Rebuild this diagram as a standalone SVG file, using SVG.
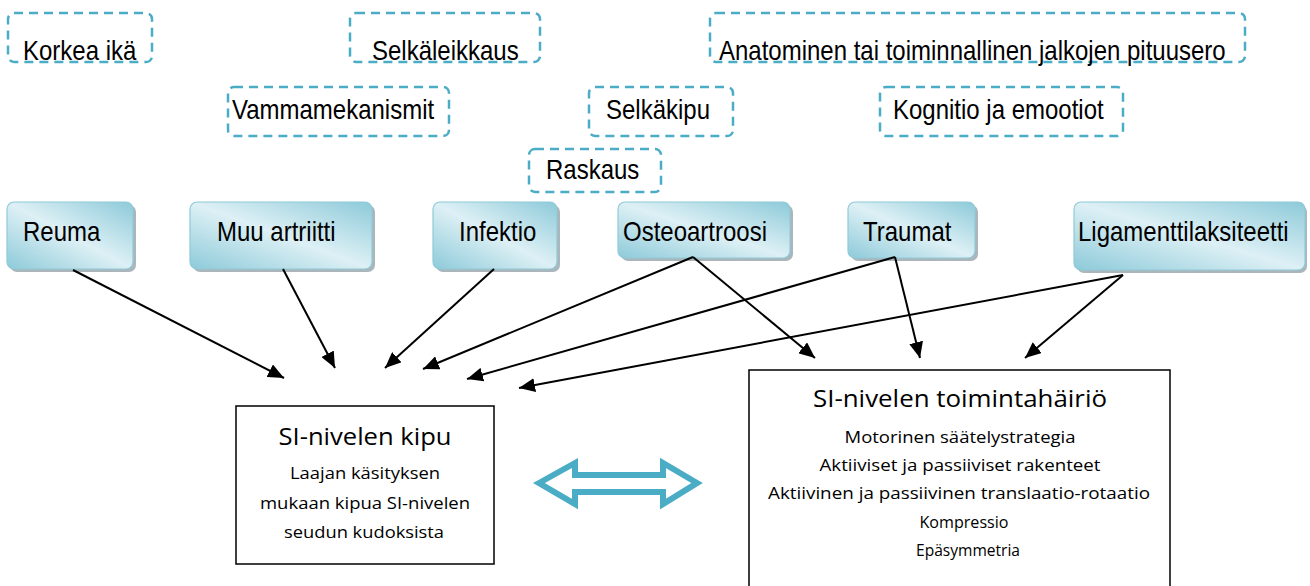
<svg xmlns="http://www.w3.org/2000/svg" width="1310" height="586" viewBox="0 0 1310 586">
<style>
.lbl{font-family:"Liberation Sans",Arial,sans-serif;font-size:28px;fill:#000}
.dash{fill:none;stroke:#4BACC6;stroke-width:2.5;stroke-dasharray:9 6}
.blue{fill:url(#g);stroke:#8FCAD8;stroke-width:1.2}
.shadow{fill:#8E9EA4;opacity:0.75}
.cal{font-family:"Open Sans","Noto Sans",sans-serif;fill:#000;text-anchor:middle}
.t{font-size:24.5px}
.s{font-size:16px}
.box{fill:#fff;stroke:#000;stroke-width:1.5}
.conn line{stroke:#000;stroke-width:2;marker-end:url(#ah)}
</style>
<defs>
<linearGradient id="g" x1="0" y1="1" x2="1" y2="0">
<stop offset="0" stop-color="#8DCAD9"/>
<stop offset="0.5" stop-color="#DDF0F5"/>
<stop offset="1" stop-color="#8DCAD9"/>
</linearGradient>
<marker id="ah" markerUnits="userSpaceOnUse" markerWidth="18" markerHeight="14" refX="16" refY="7" orient="auto">
<path d="M0,0 L16,7 L0,14 z" fill="#000"/>
</marker>
</defs>
<rect width="1310" height="586" fill="#fff"/>

<g id="korkea-ika"><rect class="dash" x="8" y="13" width="144" height="49" rx="6"/><text class="lbl" transform="translate(23,60) scale(0.857,1)">Korkea ikä</text></g>
<g id="selkaleikkaus"><rect class="dash" x="350" y="13" width="190" height="49" rx="6"/><text class="lbl" transform="translate(372,60) scale(0.857,1)">Selkäleikkaus</text></g>
<g id="anatominen"><rect class="dash" x="710" y="13" width="535" height="49" rx="6"/><text class="lbl" transform="translate(719,60) scale(0.857,1)">Anatominen tai toiminnallinen jalkojen pituusero</text></g>
<g id="vammamekanismit"><rect class="dash" x="228" y="87" width="221" height="49" rx="6"/><text class="lbl" transform="translate(232,119) scale(0.857,1)">Vammamekanismit</text></g>
<g id="selkakipu"><rect class="dash" x="589" y="87" width="144" height="49" rx="6"/><text class="lbl" transform="translate(606,119) scale(0.857,1)">Selkäkipu</text></g>
<g id="kognitio"><rect class="dash" x="880" y="87" width="243" height="49" rx="6"/><text class="lbl" transform="translate(893,119) scale(0.857,1)">Kognitio ja emootiot</text></g>
<g id="raskaus"><rect class="dash" x="529" y="149" width="132" height="43" rx="6"/><text class="lbl" transform="translate(546,179) scale(0.857,1)">Raskaus</text></g>

<g id="reuma"><rect class="shadow" x="10" y="205" width="126" height="67" rx="7"/><rect class="blue" x="7" y="202" width="126" height="67" rx="7"/><text class="lbl" transform="translate(23,241) scale(0.857,1)">Reuma</text></g>
<g id="muu-artriitti"><rect class="shadow" x="193" y="205" width="182" height="67" rx="7"/><rect class="blue" x="190" y="202" width="182" height="67" rx="7"/><text class="lbl" transform="translate(217,241) scale(0.857,1)">Muu artriitti</text></g>
<g id="infektio"><rect class="shadow" x="436" y="205" width="124" height="67" rx="7"/><rect class="blue" x="433" y="202" width="124" height="67" rx="7"/><text class="lbl" transform="translate(459,241) scale(0.857,1)">Infektio</text></g>
<g id="osteoartroosi"><rect class="shadow" x="621" y="205" width="172" height="56" rx="7"/><rect class="blue" x="618" y="202" width="172" height="56" rx="7"/><text class="lbl" transform="translate(623,241) scale(0.857,1)">Osteoartroosi</text></g>
<g id="traumat"><rect class="shadow" x="851" y="205" width="127" height="56" rx="7"/><rect class="blue" x="848" y="202" width="127" height="56" rx="7"/><text class="lbl" transform="translate(863,241) scale(0.857,1)">Traumat</text></g>
<g id="ligamenttilaksiteetti"><rect class="shadow" x="1077" y="205" width="230" height="68" rx="7"/><rect class="blue" x="1074" y="202" width="231" height="68" rx="7"/><text class="lbl" transform="translate(1078,241) scale(0.857,1)">Ligamenttilaksiteetti</text></g>

<g id="si-kipu"><rect class="box" x="236" y="406" width="258" height="158"/>
<text class="cal t" x="365" y="445" textLength="173" lengthAdjust="spacingAndGlyphs">SI-nivelen kipu</text>
<text class="cal s" x="365" y="479" textLength="150" lengthAdjust="spacingAndGlyphs">Laajan käsityksen</text>
<text class="cal s" x="365" y="509" textLength="210" lengthAdjust="spacingAndGlyphs">mukaan kipua SI-nivelen</text>
<text class="cal s" x="364" y="538" textLength="160" lengthAdjust="spacingAndGlyphs">seudun kudoksista</text></g>

<g id="si-toimintahairio"><rect class="box" x="749" y="370" width="421" height="230"/>
<text class="cal t" x="960" y="407" textLength="294" lengthAdjust="spacingAndGlyphs">SI-nivelen toimintahäiriö</text>
<text class="cal s" x="960" y="443" textLength="231" lengthAdjust="spacingAndGlyphs">Motorinen säätelystrategia</text>
<text class="cal s" x="960" y="471" textLength="281" lengthAdjust="spacingAndGlyphs">Aktiiviset ja passiiviset rakenteet</text>
<text class="cal s" x="959" y="499" textLength="382" lengthAdjust="spacingAndGlyphs">Aktiivinen ja passiivinen translaatio-rotaatio</text>
<text class="cal s" x="964" y="528" textLength="89" lengthAdjust="spacingAndGlyphs">Kompressio</text>
<text class="cal s" x="968" y="556" textLength="104" lengthAdjust="spacingAndGlyphs">Epäsymmetria</text></g>

<g id="double-arrow"><path d="M539,483 L575,463 L575,475 L663,475 L663,463 L697,483 L663,504 L663,492 L575,492 L575,504 Z" fill="#fff" stroke="#4BACC6" stroke-width="6" stroke-linejoin="miter"/></g>

<g id="connectors" class="conn">
<line x1="73" y1="270" x2="284" y2="378"/>
<line x1="283" y1="269" x2="335" y2="368"/>
<line x1="494" y1="269" x2="385" y2="368"/>
<line x1="693" y1="257" x2="423" y2="369"/>
<line x1="895" y1="257" x2="467" y2="379"/>
<line x1="1123" y1="275" x2="519" y2="388"/>
<line x1="693" y1="257" x2="815" y2="358"/>
<line x1="895" y1="257" x2="920" y2="358"/>
<line x1="1123" y1="275" x2="1025" y2="358"/>
</g>
</svg>
